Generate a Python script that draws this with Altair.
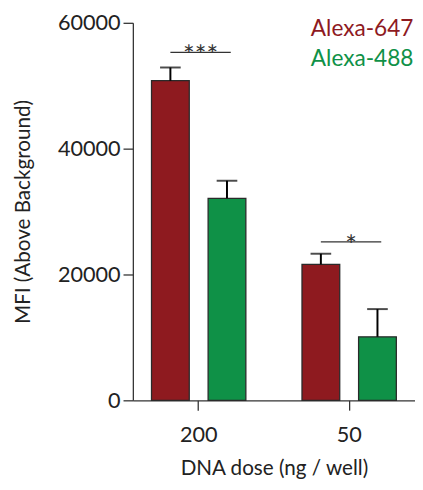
import altair as alt
import pandas as pd

doses = ["200", "200", "50", "50"]
series = ["Alexa-647", "Alexa-488", "Alexa-647", "Alexa-488"]
means = [50800, 32100, 21600, 10100]
errors = [2100, 2800, 1700, 4400]

sig_doses = ["200", "50"]
sig_labels = ["***", "*"]
sig_levels = [55300, 25200]

series_order = ["Alexa-647", "Alexa-488"]
series_colors = ["#8E1A1F", "#0F9147"]

df = pd.DataFrame({"dose": doses, "series": series, "mean": means, "err": errors})
df["upper"] = df["mean"] + df["err"]
sig = pd.DataFrame({"dose": sig_doses, "label": sig_labels, "level": sig_levels})

FONT = "Lato"

x_scale = alt.Scale(domain=["200", "50"], paddingInner=0.373, paddingOuter=0.124)
xo_scale = alt.Scale(domain=series_order, paddingInner=0.333, paddingOuter=0)
y_scale = alt.Scale(domain=[0, 60000], nice=False)
color_scale = alt.Scale(domain=series_order, range=series_colors)

label_color_expr = "datum.value == '%s' ? '%s' : '%s'" % (series_order[0], series_colors[0], series_colors[1])

x_enc = alt.X("dose:N", scale=x_scale, sort=["200", "50"],
              axis=alt.Axis(title="DNA dose (ng / well)", labelAngle=0,
                            labelPadding=15, titlePadding=12))
xo_enc = alt.XOffset("series:N", scale=xo_scale, sort=series_order)

bars = alt.Chart(df).mark_bar(stroke="#2a2a2a", strokeWidth=1.3).encode(
    x=x_enc,
    xOffset=xo_enc,
    y=alt.Y("mean:Q", scale=y_scale,
            axis=alt.Axis(title="MFI (Above Background)", values=[0, 20000, 40000, 60000],
                          format="d", labelPadding=3, titlePadding=24)),
    color=alt.Color("series:N", scale=color_scale, sort=series_order,
                    legend=alt.Legend(title=None, orient="none", legendX=158, legendY=-5,
                                      symbolSize=0, symbolOpacity=0, symbolStrokeWidth=0,
                                      labelFontSize=23, labelFont=FONT, labelOffset=0,
                                      rowPadding=6, padding=0, labelLimit=200,
                                      labelColor=alt.ExprRef(label_color_expr))),
)

stems = alt.Chart(df).mark_rule(color="black", strokeWidth=2).encode(
    x=alt.X("dose:N", scale=x_scale, sort=["200", "50"]),
    xOffset=xo_enc,
    y=alt.Y("mean:Q", scale=y_scale),
    y2="upper:Q",
)

caps = alt.Chart(df).mark_tick(color="black", thickness=2, size=21, orient="horizontal").encode(
    x=alt.X("dose:N", scale=x_scale, sort=["200", "50"]),
    xOffset=xo_enc,
    y=alt.Y("upper:Q", scale=y_scale),
)

sig_rules = alt.Chart(sig).mark_rule(color="#333333", strokeWidth=1.3).encode(
    x=alt.X("dose:N", scale=x_scale, sort=["200", "50"], bandPosition=0.2),
    x2=alt.X2("dose:N", bandPosition=0.84),
    y=alt.Y("level:Q", scale=y_scale),
)

sig_text = alt.Chart(sig).mark_text(font=FONT, fontSize=28, color="#333333",
                                    baseline="alphabetic", dy=13).encode(
    x=alt.X("dose:N", scale=x_scale, sort=["200", "50"], bandPosition=0.52),
    y=alt.Y("level:Q", scale=y_scale),
    text="label:N",
)

chart = alt.layer(bars, stems, caps, sig_rules, sig_text).properties(
    width=414, height=474,
    padding={"left": 5, "top": 0, "right": 0, "bottom": 0},
    autosize=alt.AutoSizeParams(type="fit", contains="padding"),
).configure_view(stroke=None).configure_axis(
    labelFont=FONT, titleFont=FONT, labelFontSize=22, titleFontSize=21,
    titleFontWeight="normal", labelColor="#222222", titleColor="#222222",
    domainColor="#333333", tickColor="#333333", domainWidth=1.3, tickWidth=1.3,
    tickSize=10, grid=False,
)

chart.save("out.html", embed_options={"renderer": "svg", "actions": False})
